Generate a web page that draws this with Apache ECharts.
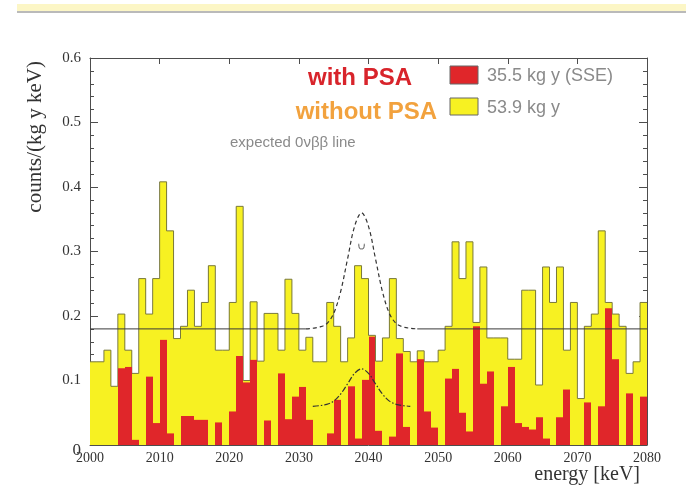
<!DOCTYPE html>
<html>
<head>
<meta charset="utf-8">
<title>Energy spectrum around Q&beta;&beta;</title>
<script src="https://cdn.jsdelivr.net/npm/echarts@6/dist/echarts.min.js"></script>
<style>
  html, body { margin: 0; padding: 0; background: #ffffff; }
  #chart { width: 686px; height: 492px; }
</style>
</head>
<body>
<div id="chart"></div>
<script>
// Histogram binning (keV)
const binStart = 2000;
const binWidth = 1;

// counts/(kg y keV) per 1 keV bin, 2000-2080 keV
const countsWithoutPSA = [
  0.129, 0.129, 0.147, 0.091, 0.203, 0.147, 0.111, 0.258, 0.203, 0.258,
  0.408, 0.332, 0.165, 0.184, 0.240, 0.184, 0.221, 0.278, 0.147, 0.147,
  0.221, 0.370, 0.100, 0.222, 0.130, 0.204, 0.204, 0.147, 0.257, 0.204,
  0.147, 0.167, 0.129, 0.129, 0.221, 0.184, 0.129, 0.166, 0.278, 0.258,
  0.170, 0.130, 0.166, 0.258, 0.165, 0.145, 0.129, 0.146, 0.129, 0.129,
  0.147, 0.184, 0.315, 0.258, 0.315, 0.190, 0.276, 0.166, 0.166, 0.166,
  0.133, 0.133, 0.240, 0.240, 0.093, 0.276, 0.221, 0.276, 0.147, 0.221,
  0.072, 0.184, 0.203, 0.332, 0.221, 0.203, 0.184, 0.111, 0.129, 0.221
];

const countsWithPSA = [
  0.000, 0.000, 0.000, 0.000, 0.119, 0.121, 0.008, 0.000, 0.106, 0.034,
  0.163, 0.018, 0.000, 0.045, 0.045, 0.039, 0.039, 0.000, 0.035, 0.000,
  0.052, 0.138, 0.097, 0.132, 0.000, 0.038, 0.000, 0.111, 0.040, 0.075,
  0.090, 0.039, 0.000, 0.000, 0.018, 0.070, 0.000, 0.091, 0.010, 0.101,
  0.168, 0.022, 0.000, 0.013, 0.142, 0.028, 0.000, 0.133, 0.052, 0.027,
  0.000, 0.103, 0.118, 0.050, 0.021, 0.184, 0.095, 0.114, 0.000, 0.060,
  0.121, 0.034, 0.028, 0.024, 0.043, 0.010, 0.000, 0.043, 0.086, 0.000,
  0.000, 0.066, 0.000, 0.060, 0.212, 0.133, 0.000, 0.080, 0.000, 0.075
];

// flat background level and where the expected-line curves replace it
const backgroundLevel = 0.18;
const lineWindow = [2031, 2047];

// expected 0vbb line on top of the background (keV, counts/(kg y keV))
const expectedLineUpper = [
  [2031, 0.180], [2032, 0.181], [2033, 0.183], [2034, 0.188], [2035, 0.204],
  [2036, 0.238], [2037, 0.289], [2038, 0.339], [2039, 0.360], [2040, 0.339],
  [2041, 0.289], [2042, 0.238], [2043, 0.204], [2044, 0.188], [2045, 0.183],
  [2046, 0.181], [2047, 0.180]
];
const expectedLineLower = [
  [2032, 0.060], [2033, 0.061], [2034, 0.063], [2035, 0.068], [2036, 0.079],
  [2037, 0.095], [2038, 0.111], [2039, 0.118], [2040, 0.111], [2041, 0.095],
  [2042, 0.079], [2043, 0.068], [2044, 0.063], [2045, 0.061], [2046, 0.060]
];
const peakMark = [[2038.6, 0.312], [2038.8, 0.304], [2039.2, 0.304], [2039.4, 0.312]];

// axis ranges
const energyRange = [2000, 2080];
const energyStep = 10;
const rateRange = [0, 0.6];
const rateStep = 0.1;

// axis titles, legend and annotation text
const energyTitle = 'energy [keV]';
const rateTitle = 'counts/(kg y keV)';
const labelWith = 'with PSA';
const labelWithout = 'without PSA';
const exposureWith = '35.5 kg y (SSE)';
const exposureWithout = '53.9 kg y';
const lineNote = 'expected 0\u03bd\u03b2\u03b2 line';

const edges = countsWithPSA.map((_, i) => binStart + i * binWidth);
const yellowData = edges.map((e, i) => [e, countsWithoutPSA[i]]);
const redData = edges.map((e, i) => [e, countsWithPSA[i]]);
const outlineData = yellowData.concat([[binStart + countsWithoutPSA.length * binWidth,
  countsWithoutPSA[countsWithoutPSA.length - 1]]]);
const baselineData = [
  [energyRange[0], backgroundLevel], [lineWindow[0], backgroundLevel],
  [(lineWindow[0] + lineWindow[1]) / 2, '-'],
  [lineWindow[1], backgroundLevel], [energyRange[1], backgroundLevel]
];

const serif = '"Liberation Serif", "DejaVu Serif", serif';
const sans = '"Liberation Sans", "DejaVu Sans", sans-serif';
const frameColor = '#4d4d4d';
const yellow = '#f7f122';
const red = '#e0262a';

function histogramBars(color) {
  return function (params, api) {
    const x0 = api.value(0);
    const v = api.value(1);
    const top = api.coord([x0, v]);
    const bottom = api.coord([x0 + binWidth, 0]);
    const left = Math.round(top[0]);
    const right = Math.round(bottom[0]);
    return {
      type: 'rect',
      shape: { x: left, y: top[1], width: right - left, height: bottom[1] - top[1] },
      style: { fill: color }
    };
  };
}

const axisLineStyle = { color: frameColor, width: 1 };

const chart = echarts.init(document.getElementById('chart'), null, { renderer: 'canvas' });
chart.setOption({
  animation: false,
  backgroundColor: '#ffffff',
  grid: { left: 90, right: 39, top: 58, bottom: 47, containLabel: false, outerBoundsMode: 'none' },
  xAxis: [
    {
      type: 'value', position: 'bottom',
      min: energyRange[0], max: energyRange[1], interval: energyStep,
      axisLine: { show: true, onZero: false, lineStyle: axisLineStyle },
      axisTick: { show: true, inside: true, length: 6, lineStyle: axisLineStyle },
      splitLine: { show: false },
      axisLabel: { fontFamily: serif, fontSize: 14, color: '#333', margin: 6,
        formatter: v => String(v) }
    },
    {
      type: 'value', position: 'top',
      min: energyRange[0], max: energyRange[1], interval: energyStep,
      axisLine: { show: true, onZero: false, lineStyle: axisLineStyle },
      axisTick: { show: true, inside: true, length: 6, lineStyle: axisLineStyle },
      splitLine: { show: false },
      axisLabel: { show: false }
    }
  ],
  yAxis: [
    {
      type: 'value', position: 'left',
      min: rateRange[0], max: rateRange[1], interval: rateStep,
      axisLine: { show: true, onZero: false, lineStyle: axisLineStyle },
      axisTick: { show: true, inside: true, length: 8, lineStyle: axisLineStyle },
      minorTick: { show: true, splitNumber: 5, length: 4, lineStyle: axisLineStyle },
      splitLine: { show: false },
      axisLabel: {
        fontFamily: serif, fontSize: 15, color: '#333', margin: 9,
        formatter: v => (v === 0 ? '{zero|0}' : v.toFixed(1)),
        rich: { zero: { fontFamily: serif, fontSize: 17, color: '#333', padding: [12, 0, 0, 0] } }
      }
    },
    {
      type: 'value', position: 'right',
      min: rateRange[0], max: rateRange[1], interval: rateStep,
      axisLine: { show: true, onZero: false, lineStyle: axisLineStyle },
      axisTick: { show: true, inside: true, length: 8, lineStyle: axisLineStyle },
      minorTick: { show: true, splitNumber: 5, length: 4, lineStyle: axisLineStyle },
      splitLine: { show: false },
      axisLabel: { show: false }
    }
  ],
  series: [
    {
      name: labelWithout, type: 'custom', renderItem: histogramBars(yellow),
      data: yellowData, encode: { x: 0, y: 1 }, z: 2, silent: true
    },
    {
      name: labelWithout + ' outline', type: 'line', step: 'end', data: outlineData,
      symbol: 'none', z: 3, silent: true,
      lineStyle: { color: '#79793c', width: 1 }
    },
    {
      name: labelWith, type: 'custom', renderItem: histogramBars(red),
      data: redData, encode: { x: 0, y: 1 }, z: 4, silent: true
    },
    {
      name: 'background', type: 'line', data: baselineData, connectNulls: false,
      symbol: 'none', z: 5, silent: true,
      lineStyle: { color: '#3a3a3a', width: 1 }
    },
    {
      name: 'expected line (without PSA)', type: 'line', data: expectedLineUpper,
      smooth: 0.35, symbol: 'none', z: 5, silent: true,
      lineStyle: { color: '#333', width: 1.2, type: [4, 3] }
    },
    {
      name: 'expected line (with PSA)', type: 'line', data: expectedLineLower,
      smooth: 0.35, symbol: 'none', z: 5, silent: true,
      lineStyle: { color: '#333', width: 1.2, type: [6, 2, 1.5, 2] }
    },
    {
      name: 'peak mark', type: 'line', data: peakMark,
      smooth: 0.5, symbol: 'none', z: 5, silent: true,
      lineStyle: { color: '#555', width: 1 }
    }
  ],
  graphic: [
    // slide header band
    { type: 'rect', silent: true, shape: { x: 17, y: 4, width: 669, height: 7 },
      style: { fill: '#fcf6c6' } },
    { type: 'line', silent: true, shape: { x1: 17, y1: 12, x2: 686, y2: 12 },
      style: { stroke: '#a3a3a3', lineWidth: 1.5 } },
    // axis titles
    { type: 'text', silent: true, x: 35, y: 61, rotation: Math.PI / 2,
      style: { text: rateTitle, fontFamily: serif, fontSize: 21, fill: '#333',
        align: 'right', verticalAlign: 'middle' } },
    { type: 'text', silent: true, x: 640, y: 475,
      style: { text: energyTitle, fontFamily: serif, fontSize: 20, fill: '#333',
        align: 'right', verticalAlign: 'middle' } },
    // legend
    { type: 'text', silent: true, x: 412, y: 78,
      style: { text: labelWith, fontFamily: sans, fontWeight: 'bold', fontSize: 24, fill: '#d8242b',
        align: 'right', verticalAlign: 'middle' } },
    { type: 'text', silent: true, x: 437, y: 112,
      style: { text: labelWithout, fontFamily: sans, fontWeight: 'bold', fontSize: 24, fill: '#f2a23e',
        align: 'right', verticalAlign: 'middle' } },
    { type: 'rect', silent: true, shape: { x: 450, y: 66, width: 28, height: 18 },
      style: { fill: red, stroke: '#666', lineWidth: 1 } },
    { type: 'rect', silent: true, shape: { x: 450, y: 98, width: 28, height: 17 },
      style: { fill: yellow, stroke: '#666', lineWidth: 1 } },
    { type: 'text', silent: true, x: 487, y: 76,
      style: { text: exposureWith, fontFamily: sans, fontSize: 18, fill: '#8a8a8a',
        align: 'left', verticalAlign: 'middle' } },
    { type: 'text', silent: true, x: 487, y: 108,
      style: { text: exposureWithout, fontFamily: sans, fontSize: 18, fill: '#8a8a8a',
        align: 'left', verticalAlign: 'middle' } },
    { type: 'text', silent: true, x: 230, y: 143,
      style: { text: lineNote, fontFamily: sans, fontSize: 15, fill: '#8a8a8a',
        align: 'left', verticalAlign: 'middle' } }
  ]
});
</script>
</body>
</html>
